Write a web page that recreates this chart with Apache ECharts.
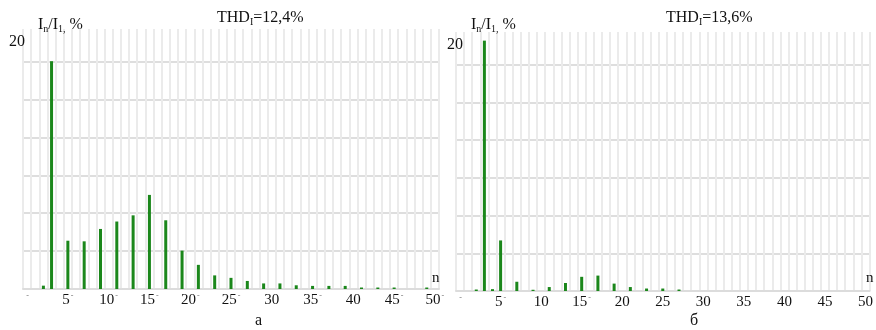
<!DOCTYPE html>
<html><head><meta charset="utf-8">
<script src="https://cdn.jsdelivr.net/npm/echarts@6/dist/echarts.min.js"></script>
<style>html,body{margin:0;padding:0;background:#fff}#c{width:876px;height:330px}</style>
</head><body><div id="c"></div>
<script>
// Harmonic order n on the x axis
const harmonics = ['0','1','2','3','4','5','6','7','8','9','10','11','12','13','14','15','16','17','18','19','20',
  '21','22','23','24','25','26','27','28','29','30','31','32','33','34','35','36','37','38','39','40',
  '41','42','43','44','45','46','47','48','49','50'];

// In/I1, % for case "а" (index = harmonic order)
const spectrumA = [0, 0, 0.27, 18.4, 0, 3.9, 0, 3.85, 0, 4.85, 0, 5.45, 0, 5.95, 0, 7.6, 0, 5.55, 0, 3.1, 0,
  1.95, 0, 1.1, 0, 0.9, 0, 0.65, 0, 0.45, 0, 0.45, 0, 0.3, 0, 0.25, 0, 0.25, 0, 0.25, 0,
  0.12, 0, 0.12, 0, 0.12, 0, 0, 0, 0.12, 0];

// In/I1, % for case "б"
const spectrumB = [0, 0, 0.12, 20.3, 0.15, 4.1, 0, 0.75, 0, 0.1, 0, 0.32, 0, 0.65, 0, 1.15, 0, 1.25, 0, 0.6, 0,
  0.32, 0, 0.2, 0, 0.2, 0, 0.12, 0, 0, 0, 0, 0, 0, 0, 0, 0, 0, 0, 0, 0,
  0, 0, 0, 0, 0, 0, 0, 0, 0, 0];

// Tick labels every 5th harmonic; small dash marks printed beside some of them
const tickStep = 5;
const dashTicksA = [0, 5, 10, 15, 20, 25, 35, 45, 50];
const dashTicksB = [0, 5, 15];

const thdA = 'THD{sub|I}=12,4%';
const thdB = 'THD{sub|I}=13,6%';
const captionA = 'а';
const captionB = 'б';

const yMax = 21;
const yTopLabel = 20;
const gridStep = 3.06;

const SERIF = '"Liberation Serif", "Times New Roman", serif';
const BAR = '#1b871b';

const chart = echarts.init(document.getElementById('c'), null, {renderer: 'canvas'});

function xAxisFor(gridIndex, dashTicks) {
  return {
    type: 'category', gridIndex, data: harmonics, boundaryGap: true,
    axisLine: {show: true, lineStyle: {color: '#dcdcdc', width: 2}},
    axisTick: {show: false},
    splitLine: {show: true, interval: 0, lineStyle: {color: '#ebebeb', width: 2}},
    axisLabel: {
      interval: i => i % tickStep === 0, margin: 3,
      formatter: (v, i) => {
        const dash = dashTicks.indexOf(i) >= 0 ? '{t|-}' : '';
        return i === 0 ? dash : '{v|' + v + '}' + dash;
      },
      rich: {
        v: {fontFamily: SERIF, fontSize: 15, color: '#111', lineHeight: 16},
        t: {fontFamily: SERIF, fontSize: 8, color: '#777', verticalAlign: 'top', lineHeight: 8, padding: [0, 0, 6, 1]}
      }
    }
  };
}

function gridAxisFor(gridIndex) {
  return {
    type: 'value', gridIndex, min: 0, max: yMax, interval: gridStep,
    axisLine: {show: false}, axisTick: {show: false}, axisLabel: {show: false},
    splitLine: {show: true, showMaxLine: false, lineStyle: {color: '#dedede', width: 2}}
  };
}

function labelAxisFor(gridIndex, margin) {
  return {
    type: 'value', gridIndex, min: 0, max: yMax, interval: yTopLabel, position: 'left',
    axisLine: {show: false}, axisTick: {show: false}, splitLine: {show: false},
    axisLabel: {
      margin, fontFamily: SERIF, fontSize: 16, color: '#111',
      formatter: v => v === yTopLabel ? String(yTopLabel) : ''
    }
  };
}

const richTitle = {
  i: {fontFamily: SERIF, fontSize: 16, color: '#111', lineHeight: 18},
  sub: {fontFamily: SERIF, fontSize: 10, color: '#111', verticalAlign: 'bottom', lineHeight: 12}
};
const yNameText = '{i|I}{sub|n}{i|/I}{sub|1,}{i| %}';

function textBlock(text, left, top, size) {
  return {
    text, left, top, padding: 0,
    textStyle: {fontFamily: SERIF, fontSize: size || 16, fontWeight: 'normal', color: '#111', rich: richTitle}
  };
}

chart.setOption({
  animation: false,
  backgroundColor: '#ffffff',
  title: [
    textBlock(yNameText, 38, 16),
    textBlock('{i|' + thdA.replace('{sub|I}', '}{sub|I}{i|') + '}', 217, 9),
    textBlock(yNameText, 471, 16),
    textBlock('{i|' + thdB.replace('{sub|I}', '}{sub|I}{i|') + '}', 666, 9),
    textBlock('n', 432, 271, 15),
    textBlock('n', 866, 271, 15),
    textBlock(captionA, 255, 313, 16),
    textBlock(captionB, 690, 313, 16)
  ],
  grid: [
    {left: 23, right: 437, top: 29, bottom: 41},
    {left: 456, right: 6, top: 32, bottom: 39}
  ],
  xAxis: [xAxisFor(0, dashTicksA), xAxisFor(1, dashTicksB)],
  yAxis: [gridAxisFor(0), labelAxisFor(0, -2), gridAxisFor(1), labelAxisFor(1, -7)],
  series: [
    {type: 'bar', xAxisIndex: 0, yAxisIndex: 0, data: spectrumA, barWidth: 3,
     itemStyle: {color: BAR}},
    {type: 'bar', xAxisIndex: 1, yAxisIndex: 2, data: spectrumB, barWidth: 3,
     itemStyle: {color: BAR}}
  ]
});
</script>
</body></html>
